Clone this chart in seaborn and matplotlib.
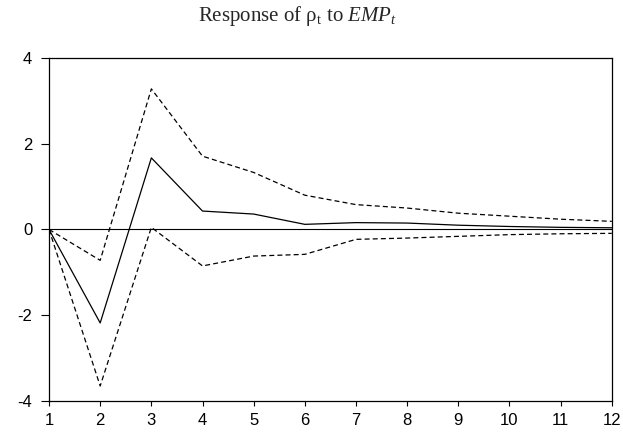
import matplotlib
matplotlib.use("Agg")
import matplotlib.pyplot as plt
import seaborn as sns
import pandas as pd

periods = [1, 2, 3, 4, 5, 6, 7, 8, 9, 10, 11, 12]
response = [0.0, -2.18, 1.67, 0.43, 0.36, 0.12, 0.16, 0.15, 0.10, 0.07, 0.05, 0.04]
upper = [0.0, -0.72, 3.28, 1.71, 1.33, 0.80, 0.58, 0.50, 0.38, 0.31, 0.24, 0.19]
lower = [0.0, -3.65, 0.05, -0.85, -0.62, -0.58, -0.23, -0.20, -0.16, -0.12, -0.10, -0.09]
yticks = [-4, -2, 0, 2, 4]

sns.set_style("ticks")
plt.rcParams['font.family'] = ['Liberation Sans', 'DejaVu Sans']
plt.rcParams['axes.unicode_minus'] = False
plt.rcParams['mathtext.fontset'] = 'custom'
plt.rcParams['mathtext.rm'] = 'Liberation Serif'
plt.rcParams['mathtext.it'] = 'Liberation Serif:italic'

df = pd.DataFrame({
    "period": periods * 3,
    "value": response + upper + lower,
    "series": ["resp"] * 12 + ["upper"] * 12 + ["lower"] * 12,
})

fig = plt.figure(figsize=(6.23, 4.36), dpi=100)
ax = fig.add_axes([0.0787, 0.0803, 0.9033, 0.7867])

ax.axhline(0, color="black", lw=0.8, zorder=1)
sns.lineplot(data=df, x="period", y="value", hue="series", style="series",
             palette={"resp": "black", "upper": "black", "lower": "black"},
             dashes={"resp": "", "upper": (4, 2.5), "lower": (4, 2.5)},
             linewidth=0.9, legend=False, ax=ax)

ax.set_xlim(1, 12)
ax.set_ylim(-4, 4)
ax.set_xticks(periods)
ax.set_yticks(yticks)
ax.set_xlabel("")
ax.set_ylabel("")
for s in ax.spines.values():
    s.set_visible(True)
    s.set_linewidth(0.9)
    s.set_color("black")
ax.tick_params(axis="y", direction="out", length=6, width=0.8, labelsize=12, colors="black", pad=6)
ax.tick_params(axis="x", direction="out", length=3.5, width=0.8, labelsize=12, colors="black", pad=5)

fig.text(0.478, 0.963, r"Response of ρ$_{\mathrm{t}}$ to $EMP_t$",
         ha="center", va="center", fontsize=15, family="Liberation Serif")

fig.savefig("out.png", dpi=100)
